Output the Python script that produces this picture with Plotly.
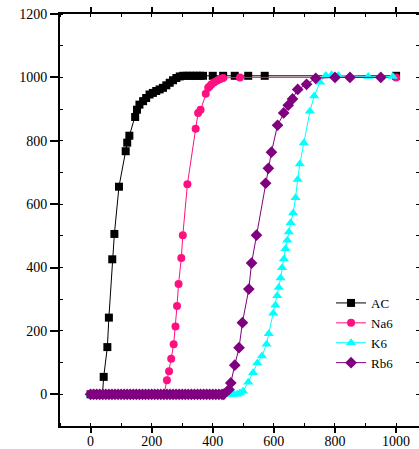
import plotly.graph_objects as go

# ---- data ----
ac_x = [0, 10, 20, 30, 39, 43, 55, 60, 71, 78, 93, 115, 120, 127, 146, 152, 160, 172, 182, 193,
        204, 215, 226, 237, 248, 259, 270, 281, 292, 303, 314, 325, 336, 347, 358, 368, 400,
        434, 472, 516, 570, 1000]
ac_y = [0, 0, 0, 0, 0, 55, 149, 242, 426, 506, 655, 767, 794, 816, 875, 898, 914, 925, 935, 946,
        951, 957, 962, 967, 975, 983, 991, 998, 1003, 1005, 1005, 1005, 1005, 1005, 1005, 1005, 1005,
        1005, 1005, 1005, 1005, 1005]

na_x = [0, 10, 20, 30, 40, 50, 60, 70, 80, 90, 100, 110, 120, 130, 140, 150, 160, 170, 180, 190,
        200, 210, 220, 230, 240, 250, 257, 264, 272, 278, 283, 288, 297, 302, 317, 344, 352, 360,
        377, 385, 390, 396, 405, 415, 425, 434, 489, 1000]
na_y = [0, 0, 0, 0, 0, 0, 0, 0, 0, 0, 0, 0, 0, 0, 0, 0, 0, 0, 0, 0,
        0, 0, 0, 0, 0, 44, 73, 112, 158, 214, 279, 348, 430, 502, 663, 838, 888, 898,
        948, 967, 972, 978, 985, 990, 995, 998, 1000, 1000]

k_x = [0, 10, 20, 30, 40, 50, 60, 70, 80, 90, 100, 110, 120, 130, 140, 150, 160, 170, 180, 190,
       200, 210, 220, 230, 240, 250, 260, 270, 280, 290, 300, 310, 320, 330, 340, 350, 360, 370,
       380, 390, 400, 410, 420, 430, 440, 450, 460, 470, 480, 489, 499, 516, 532, 546, 561, 576,
       583, 598, 605, 611, 616, 622, 627, 633, 638, 644, 649, 655, 663, 671, 678, 685, 698, 718,
       732, 751, 770, 789, 811, 909, 989]
k_y = [0, 0, 0, 0, 0, 0, 0, 0, 0, 0, 0, 0, 0, 0, 0, 0, 0, 0, 0, 0,
       0, 0, 0, 0, 0, 0, 0, 0, 0, 0, 0, 0, 0, 0, 0, 0, 0, 0,
       0, 0, 0, 0, 0, 0, 0, 0, 0, 0, 0, 4, 10, 38, 68, 99, 121, 158,
       191, 256, 281, 311, 337, 367, 399, 427, 459, 486, 512, 541, 572, 620, 678, 727, 793, 893,
       941, 985, 1006, 1008, 1006, 1003, 1003]

rb_x = [0, 10, 20, 30, 40, 50, 60, 70, 80, 90, 100, 110, 120, 130, 140, 150, 160, 170, 180, 190,
        200, 210, 220, 230, 240, 250, 260, 270, 280, 290, 300, 310, 320, 330, 340, 350, 360, 370,
        380, 390, 400, 410, 420, 430, 436, 453, 459, 472, 486, 497, 518, 527, 543, 573, 582, 592,
        612, 632, 647, 661, 678, 707, 737, 800, 849, 950]
rb_y = [0, 0, 0, 0, 0, 0, 0, 0, 0, 0, 0, 0, 0, 0, 0, 0, 0, 0, 0, 0,
        0, 0, 0, 0, 0, 0, 0, 0, 0, 0, 0, 0, 0, 0, 0, 0, 0, 0,
        0, 0, 0, 0, 0, 0, 0, 15, 36, 92, 147, 226, 332, 414, 502, 666, 713, 764,
        849, 888, 912, 932, 962, 978, 997, 1000, 1000, 1000]

x_ticks = [0, 200, 400, 600, 800, 1000]
y_ticks = [0, 200, 400, 600, 800, 1000, 1200]

FONT = "Liberation Serif"

fig = go.Figure()
fig.add_trace(go.Scatter(x=ac_x, y=ac_y, name="AC", mode="lines+markers",
                         line=dict(color="black", width=1),
                         marker=dict(symbol="square", size=8, color="black")))
fig.add_trace(go.Scatter(x=na_x, y=na_y, name="Na6", mode="lines+markers",
                         line=dict(color="#FF1080", width=1),
                         marker=dict(symbol="circle", size=8, color="#FF1080")))
fig.add_trace(go.Scatter(x=k_x, y=k_y, name="K6", mode="lines+markers",
                         line=dict(color="#00FFFF", width=1),
                         marker=dict(symbol="triangle-up", size=9, color="#00FFFF")))
fig.add_trace(go.Scatter(x=rb_x, y=rb_y, name="Rb6", mode="lines+markers",
                         line=dict(color="#800080", width=1),
                         marker=dict(symbol="diamond", size=9, color="#800080")))

axis_common = dict(showgrid=False, zeroline=False, showline=True, linecolor="black",
                   linewidth=2, ticks="outside", tickwidth=2, tickcolor="black",
                   tickfont=dict(family=FONT, size=14, color="black"),
                   mirror="ticks", automargin=False)

fig.update_xaxes(range=[-100, 1075], tickvals=x_ticks, ticklen=5, ticklabelstandoff=-4,
                 minor=dict(ticks="inside", dtick=100, tick0=0, ticklen=3, tickwidth=1,
                            tickcolor="black"),
                 **axis_common)
fig.update_yaxes(range=[-100, 1200], tickvals=y_ticks, ticklen=8,
                 minor=dict(ticks="inside", dtick=100, tick0=0, ticklen=3, tickwidth=1,
                            tickcolor="black"),
                 **axis_common)

fig.update_layout(
    width=419, height=449,
    margin=dict(l=60, r=0, t=14, b=23),
    plot_bgcolor="white", paper_bgcolor="white",
    font=dict(family=FONT, size=14, color="black"),
    legend=dict(x=0.755, y=0.335, xanchor="left", yanchor="top",
                bgcolor="rgba(0,0,0,0)", font=dict(family=FONT, size=13),
                tracegroupgap=0, itemwidth=30),
    showlegend=True,
)

fig.write_html("out.html", config={"displayModeBar": False},
               post_script="document.body.style.margin='0';document.body.style.padding='0';"
                           "document.body.style.overflow='hidden';")
